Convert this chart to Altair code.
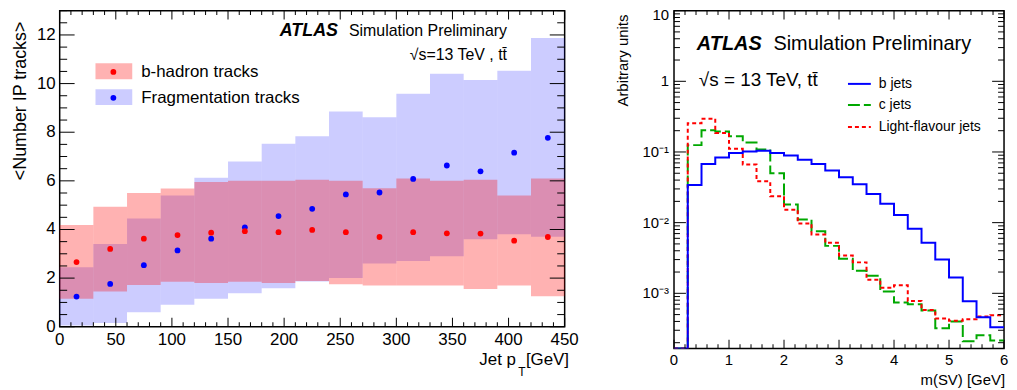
import math
import altair as alt
import pandas as pd

FONT = "Liberation Sans"

# ---------------- Left panel: <Number IP tracks> vs jet pT ----------------
PT_LOW = [0, 30, 60, 90, 120, 150, 180, 210, 240, 270, 300, 330, 360, 390, 420]
PT_HIGH = [30, 60, 90, 120, 150, 180, 210, 240, 270, 300, 330, 360, 390, 420, 450]
PT_CENTER = [15, 45, 75, 105, 135, 165, 195, 225, 255, 285, 315, 345, 375, 405, 435]

BHAD_MEAN = [2.66, 3.20, 3.62, 3.77, 3.87, 3.93, 3.89, 3.98, 3.89, 3.69, 3.89, 3.84, 3.83, 3.54, 3.69]
BHAD_LOW = [1.15, 1.45, 1.72, 1.85, 1.80, 1.85, 1.80, 1.88, 1.75, 1.70, 1.70, 1.70, 1.55, 1.70, 1.25]
BHAD_HIGH = [4.18, 4.93, 5.50, 5.68, 5.95, 6.00, 6.00, 6.05, 6.00, 5.70, 6.10, 6.00, 6.05, 5.40, 6.10]

FRAG_MEAN = [1.24, 1.76, 2.53, 3.14, 3.62, 4.09, 4.55, 4.85, 5.44, 5.52, 6.08, 6.63, 6.39, 7.16, 7.77]
FRAG_LOW = [0.05, 0.15, 0.60, 0.90, 1.15, 1.38, 1.58, 1.86, 2.00, 2.60, 2.70, 2.90, 3.60, 3.80, 3.70]
FRAG_HIGH = [2.45, 3.40, 4.45, 5.40, 6.13, 6.80, 7.53, 7.83, 8.85, 8.62, 9.58, 10.40, 10.15, 10.53, 11.87]

X1_LABELS = [0, 50, 100, 150, 200, 250, 300, 350, 400, 450]
Y1_LABELS = [0, 2, 4, 6, 8, 10, 12]
X1_MINOR = [v for v in range(0, 451, 10) if v % 50 != 0]
Y1_MINOR = [i * 0.5 for i in range(0, 27) if i % 4 != 0]

# ---------------- Right panel: m(SV) distributions ----------------
M_EDGES = [0.0, 0.25, 0.5, 0.75, 1.0, 1.25, 1.5, 1.75, 2.0, 2.25, 2.5, 2.75, 3.0,
           3.25, 3.5, 3.75, 4.0, 4.25, 4.5, 4.75, 5.0, 5.25, 5.5, 5.75, 6.0]
B_JETS = [0, 0.0342, 0.0676, 0.0838, 0.0964, 0.1016, 0.104, 0.0964, 0.0893, 0.0777,
          0.0676, 0.0545, 0.0438, 0.035, 0.0255, 0.0185, 0.0128, 0.0082, 0.0052,
          0.0030, 0.00168, 0.00077, 0.00046, 0.00033]
C_JETS = [0, 0.125, 0.203, 0.195, 0.167, 0.136, 0.108, 0.050, 0.0181, 0.0111,
          0.00755, 0.00469, 0.00308, 0.00209, 0.00177, 0.00106, 0.00074, 0.00070,
          0.00057, 0.00032, 0.00040, 0.00021, 0.000255, 0.000215]
L_JETS = [0, 0.255, 0.296, 0.186, 0.111, 0.0667, 0.0385, 0.0237, 0.0152, 0.0097,
          0.0068, 0.0052, 0.00344, 0.00274, 0.00155, 0.00120, 0.00130, 0.00078,
          0.00058, 0.00044, 0.00041, 0.00043, 0.00047, 0.00049]
YMIN, YMAX = 1.65e-4, 10
X2_LABELS = [0, 1, 2, 3, 4, 5, 6]
Y2_LABELS = [1e-3, 1e-2, 1e-1, 1]
Y2_LABEL_TEXT = ["10\u207b\u00b3", "10\u207b\u00b2", "10\u207b\u00b9", "1"]
Y2_TOP_LABEL = [10]
X2_MINOR = [round(i * 0.2, 1) for i in range(0, 31) if i % 5 != 0]
Y2_MINOR = [m * 10.0 ** e for e in range(-4, 1) for m in range(2, 10) if YMIN <= m * 10.0 ** e <= YMAX]

W1, H1 = 508, 318
W2, H2 = 332, 340

RED_OP, BLUE_OP = 0.30, 0.20


def one(**kw):
    return pd.DataFrame([kw]) if kw else pd.DataFrame([{"k": 0}])


def text_layer(txt, x, y, size, align="left", baseline="alphabetic", weight="normal",
               style="normal", angle=0):
    return alt.Chart(one(t=txt)).mark_text(
        align=align, baseline=baseline, fontSize=size, fontWeight=weight,
        fontStyle=style, font=FONT, color="black", angle=angle
    ).encode(text="t:N", x=alt.value(x), y=alt.value(y))


def x_labels(values, texts, scale, y, size):
    df = pd.DataFrame({"pos": values, "lab": texts})
    return alt.Chart(df).mark_text(align="center", baseline="top", fontSize=size,
                                   font=FONT, color="black").encode(
        x=alt.X("pos:Q", scale=scale, axis=None), y=alt.value(y), text="lab:N")


def y_labels(values, texts, scale, x, size, dy=0):
    df = pd.DataFrame({"pos": values, "lab": texts})
    return alt.Chart(df).mark_text(align="right", baseline="middle", fontSize=size,
                                   font=FONT, color="black", dy=dy).encode(
        y=alt.Y("pos:Q", scale=scale, axis=None), x=alt.value(x), text="lab:N")


# ---- inward tick marks as thin rectangles placed through the scales ----
class LinMap:
    def __init__(self, lo, hi, px):
        self.lo, self.hi, self.u = lo, hi, (hi - lo) / px

    def shift(self, v, npx):
        return v + npx * self.u


class LogMap:
    def __init__(self, lo, hi, px):
        self.lo, self.hi, self.f = lo, hi, 10 ** (math.log10(hi / lo) / px)

    def shift(self, v, npx):
        return v * self.f ** npx


def tick_rects(xmap, ymap, x_major, x_minor, y_major, y_minor, lx, sx, ly, sy):
    rows = []
    for vals, length in ((x_major, lx), (x_minor, sx)):
        for t in vals:
            xa, xb = xmap.shift(t, -0.5), xmap.shift(t, 0.5)
            rows.append((xa, xb, ymap.lo, ymap.shift(ymap.lo, length)))
            rows.append((xa, xb, ymap.shift(ymap.hi, -length), ymap.hi))
    for vals, length in ((y_major, ly), (y_minor, sy)):
        for t in vals:
            ya, yb = ymap.shift(t, -0.5), ymap.shift(t, 0.5)
            rows.append((xmap.lo, xmap.shift(xmap.lo, length), ya, yb))
            rows.append((xmap.shift(xmap.hi, -length), xmap.hi, ya, yb))
    return pd.DataFrame(rows, columns=["x0", "x1", "y0", "y1"])


def tick_layer(df, xscale, yscale):
    return alt.Chart(df).mark_rect(color="black", opacity=1).encode(
        x=alt.X("x0:Q", scale=xscale, axis=None), x2="x1:Q",
        y=alt.Y("y0:Q", scale=yscale, axis=None), y2="y1:Q")


# ---- left panel ----
band_df = pd.DataFrame({
    "lo": PT_LOW, "hi": PT_HIGH, "mid": PT_CENTER,
    "b": BHAD_MEAN, "b_lo": BHAD_LOW, "b_hi": BHAD_HIGH,
    "f": FRAG_MEAN, "f_lo": FRAG_LOW, "f_hi": FRAG_HIGH,
})
xs1 = alt.Scale(domain=[0, 450], nice=False, zero=False)
ys1 = alt.Scale(domain=[0, 13], nice=False, zero=False)

blue_band = alt.Chart(band_df).mark_rect(color="#0000ff", opacity=BLUE_OP).encode(
    x=alt.X("lo:Q", scale=xs1, axis=None), x2="hi:Q",
    y=alt.Y("f_lo:Q", scale=ys1, axis=None), y2="f_hi:Q",
)
red_band = alt.Chart(band_df).mark_rect(color="#ff0000", opacity=RED_OP).encode(
    x=alt.X("lo:Q", scale=xs1, axis=None), x2="hi:Q",
    y=alt.Y("b_lo:Q", scale=ys1, axis=None), y2="b_hi:Q",
)
blue_pts = alt.Chart(band_df).mark_circle(size=34, color="#0000ff", opacity=1).encode(
    x=alt.X("mid:Q", scale=xs1, axis=None),
    y=alt.Y("f:Q", scale=ys1, axis=None),
)
red_pts = alt.Chart(band_df).mark_circle(size=34, color="#ff0000", opacity=1).encode(
    x=alt.X("mid:Q", scale=xs1, axis=None),
    y=alt.Y("b:Q", scale=ys1, axis=None),
)

leg_red_box = alt.Chart(one()).mark_rect(color="#ff0000", opacity=RED_OP).encode(
    x=alt.value(36), x2=alt.value(73), y=alt.value(53), y2=alt.value(69))
leg_blue_box = alt.Chart(one()).mark_rect(color="#0000ff", opacity=BLUE_OP).encode(
    x=alt.value(36), x2=alt.value(73), y=alt.value(79), y2=alt.value(95))
leg_red_pt = alt.Chart(one()).mark_circle(size=34, color="#ff0000", opacity=1).encode(
    x=alt.value(54), y=alt.value(61.7))
leg_blue_pt = alt.Chart(one()).mark_circle(size=34, color="#0000ff", opacity=1).encode(
    x=alt.value(54), y=alt.value(87.7))

ticks1 = tick_rects(LinMap(0, 450, W1), LinMap(0, 13, H1),
                    X1_LABELS, X1_MINOR, Y1_LABELS, Y1_MINOR, 9, 4.5, 15, 7.5)

left = alt.layer(
    blue_band, red_band, blue_pts, red_pts,
    leg_red_box, leg_blue_box, leg_red_pt, leg_blue_pt,
    tick_layer(ticks1, xs1, ys1),
    x_labels(X1_LABELS, [str(v) for v in X1_LABELS], xs1, H1 + 5, 17),
    y_labels(Y1_LABELS, [str(v) for v in Y1_LABELS], ys1, -4, 17),
    text_layer("<Number IP tracks>", -39, 11, 18, align="right", baseline="middle", angle=270),
    text_layer("b-hadron tracks", 82, 62, 17, baseline="middle"),
    text_layer("Fragmentation tracks", 82, 88, 17, baseline="middle"),
    text_layer("ATLAS", 280, 26, 18, align="right", weight="bold", style="italic"),
    text_layer("Simulation Preliminary", 450, 26, 16, align="right"),
    text_layer("\u221as=13 TeV , tt\u0304", 450, 50, 16, align="right"),
    text_layer("Jet p", 459, 356, 17, align="right"),
    text_layer("T", 465, 368, 12, align="center"),
    text_layer("[GeV]", 469, 356, 17, align="left"),
).properties(width=W1, height=H1)

# ---- right panel ----
def hist_df(vals):
    v = [YMIN if val <= 0 else val for val in vals] + [vals[-1]]
    return pd.DataFrame({"m": M_EDGES, "v": v})


xs2 = alt.Scale(domain=[0, 6], nice=False, zero=False)
ys2 = alt.Scale(type="log", domain=[YMIN, YMAX], nice=False)

c_line = alt.Chart(hist_df(C_JETS)).mark_line(
    interpolate="step-after", color="#00a800", strokeWidth=2, strokeDash=[12, 4], clip=True
).encode(x=alt.X("m:Q", scale=xs2, axis=None), y=alt.Y("v:Q", scale=ys2, axis=None))
l_line = alt.Chart(hist_df(L_JETS)).mark_line(
    interpolate="step-after", color="#ff0000", strokeWidth=2, strokeDash=[4, 3], clip=True
).encode(x=alt.X("m:Q", scale=xs2, axis=None), y=alt.Y("v:Q", scale=ys2, axis=None))
b_line = alt.Chart(hist_df(B_JETS)).mark_line(
    interpolate="step-after", color="#0000ff", strokeWidth=2, clip=True
).encode(x=alt.X("m:Q", scale=xs2, axis=None), y=alt.Y("v:Q", scale=ys2, axis=None))


def leg_line(color, y, dash=None):
    kw = dict(color=color, strokeWidth=2)
    if dash:
        kw["strokeDash"] = dash
    return alt.Chart(one()).mark_rule(**kw).encode(
        x=alt.value(175), x2=alt.value(198), y=alt.value(y))


ticks2 = tick_rects(LinMap(0, 6, W2), LogMap(YMIN, YMAX, H2),
                    X2_LABELS, X2_MINOR, Y2_LABELS + Y2_TOP_LABEL, Y2_MINOR, 9, 4.5, 12, 6)

right = alt.layer(
    c_line, l_line, b_line,
    tick_layer(ticks2, xs2, ys2),
    x_labels(X2_LABELS, [str(v) for v in X2_LABELS], xs2, H2 + 4, 15),
    y_labels(Y2_LABELS, Y2_LABEL_TEXT, ys2, -5, 15),
    y_labels(Y2_TOP_LABEL, ["10"], ys2, -5, 15, dy=4),
    text_layer("Arbitrary units", -51, 4, 15, align="right", baseline="middle", angle=270),
    leg_line("#0000ff", 73.7),
    leg_line("#00a800", 95, [12, 4]),
    leg_line("#ff0000", 117, [4, 3]),
    text_layer("b jets", 206, 73.7, 14, baseline="middle"),
    text_layer("c jets", 206, 95, 14, baseline="middle"),
    text_layer("Light-flavour jets", 206, 117, 14, baseline="middle"),
    text_layer("ATLAS", 23, 40, 20, weight="bold", style="italic"),
    text_layer("Simulation Preliminary", 100, 40, 20),
    text_layer("\u221as = 13 TeV, tt\u0304", 25, 76, 19),
    text_layer("m(SV) [GeV]", 333, 377, 15, align="right"),
).properties(width=W2, height=H2)

chart = alt.hconcat(left, right, spacing=110, bounds="flush").properties(
    padding={"left": 3, "top": -2.5, "right": 0, "bottom": 0}
).configure(font=FONT).configure_view(
    stroke="black", strokeWidth=1.5
)

chart.save("out.html", embed_options={"renderer": "svg", "actions": False})
